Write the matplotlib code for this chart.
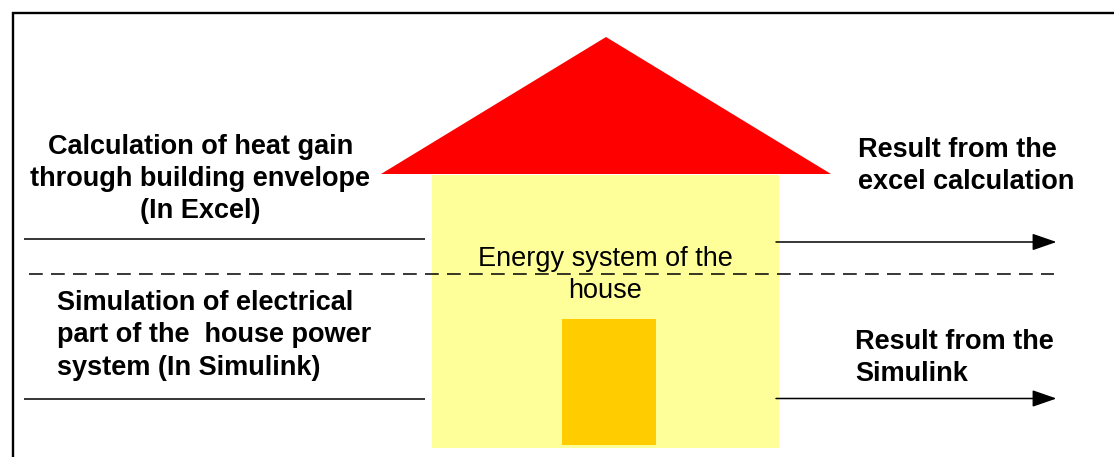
import matplotlib
matplotlib.use("Agg")
import matplotlib.pyplot as plt
from matplotlib.patches import Polygon, Rectangle

plt.rcParams['font.family'] = ['Liberation Sans', 'DejaVu Sans']

roof = [(381, 174), (606, 37), (831, 174)]
walls = (432, 175, 347, 273)
door = (562, 319, 94, 126)

left_labels = ["Calculation of heat gain\nthrough building envelope\n(In Excel)",
               "Simulation of electrical\npart of the  house power\nsystem (In Simulink)"]
right_labels = ["Result from the\nexcel calculation", "Result from the\nSimulink"]
centre_label = "Energy system of the\nhouse"

fig = plt.figure(figsize=(11.14, 4.57), dpi=100)
ax = fig.add_axes([0, 0, 1, 1])
ax.set_xlim(0, 1114)
ax.set_ylim(457, 0)
ax.axis('off')

# frame, only top and left show in the crop
ax.plot([13, 13, 1114], [457, 12.5, 12.5], color='black', lw=1.7, solid_joinstyle='miter')

ax.add_patch(Rectangle(walls[:2], walls[2], walls[3], fc='#FFFF99', ec='none'))
ax.add_patch(Polygon(roof, fc='#FF0000', ec='none'))
ax.add_patch(Rectangle(door[:2], door[2], door[3], fc='#FFCC00', ec='none'))

ax.plot([24, 425], [239, 239], color='black', lw=1.1, solid_capstyle='butt')
ax.plot([24, 425], [398.5, 398.5], color='black', lw=1.1, solid_capstyle='butt')
ax.plot([29, 1054], [274, 274], color='black', lw=1.1, dashes=(9, 5.4), dash_capstyle='butt')

for y in [242, 398.5]:
    ax.annotate('', xy=(1056.5, y), xytext=(776, y),
                arrowprops=dict(arrowstyle='-|>,head_length=1.5,head_width=0.52',
                                color='black', lw=1.1, shrinkA=0, shrinkB=0))

ax.text(200.5, 179, left_labels[0], ha='center', va='center', fontsize=19.5,
        fontweight='bold', linespacing=1.32)
ax.text(57, 335.5, left_labels[1], ha='left', va='center', fontsize=19.5,
        fontweight='bold', linespacing=1.32)
ax.text(858, 166, right_labels[0], ha='left', va='center', fontsize=19.5,
        fontweight='bold', linespacing=1.32)
ax.text(855, 358, right_labels[1], ha='left', va='center', fontsize=19.5,
        fontweight='bold', linespacing=1.32)
ax.text(605.5, 275, centre_label, ha='center', va='center', fontsize=19.5,
        linespacing=1.32)

fig.savefig('out.png', dpi=100)
